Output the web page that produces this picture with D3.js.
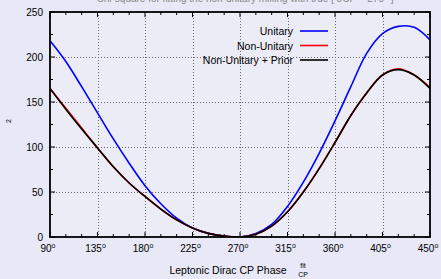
<!DOCTYPE html>
<html>
<head>
<meta charset="utf-8">
<script src="https://cdn.jsdelivr.net/npm/d3@7"></script>
<style>
  html, body { margin: 0; padding: 0; background: #e8e8f6; }
  svg { display: block; }
</style>
</head>
<body>
<div id="chart"></div>
<script>
// data
const phases = [90, 105, 120, 135, 150, 165, 180, 195, 210, 225, 240, 255, 270,
                285, 300, 315, 330, 345, 360, 375, 390, 405, 420, 435, 450]
const unitary = [218, 195, 167, 138, 109, 82, 57, 37, 21, 10, 4, 1, 0,
                 4, 14, 34, 61, 93, 129, 167, 204, 226, 234, 233, 219]
const nonUnitary = [165, 143, 121, 99, 78, 60, 45, 31, 19, 10, 4, 1, 0,
                    3, 12, 28, 50, 76, 105, 135, 160, 180, 187, 180, 166]
const nonUnitaryPrior = [165, 142, 120, 99, 78, 60, 45, 31, 19, 10, 4, 1, 0,
                         3, 12, 28, 50, 76, 105, 135, 160, 180, 186, 180, 165]
const xTicks = [90, 135, 180, 225, 270, 315, 360, 405, 450]
const yTicks = [0, 50, 100, 150, 200, 250]
const seriesNames = ["Unitary", "Non-Unitary", "Non-Unitary + Prior"]
const seriesColors = ["#0000ff", "#ff0000", "#000000"]

const W = 441, H = 279
const margin = {left: 50, right: 11, top: 12, bottom: 42}
const font = "Liberation Sans, Arial, Helvetica, sans-serif"

const svg = d3.select("#chart").append("svg")
    .attr("width", W)
    .attr("height", H)

svg.append("rect").attr("width", W).attr("height", H).attr("fill", "#e8e8f6")

const x = d3.scaleLinear().domain([90, 450]).range([margin.left, W - margin.right])
const y = d3.scaleLinear().domain([0, 250]).range([H - margin.bottom, margin.top])

// title, cut off at the top edge as in the original
svg.append("text")
    .attr("x", 245).attr("y", 2)
    .attr("text-anchor", "middle")
    .attr("font-family", font).attr("font-size", 10)
    .attr("fill", "#888")
    .text("Chi-square for fitting the non-unitary mixing with true [ δCP = 270° ]")

svg.append("rect")
    .attr("x", x(90)).attr("y", y(250))
    .attr("width", x(450) - x(90)).attr("height", y(0) - y(250))
    .attr("fill", "#ececf7")

// grid
const grid = svg.append("g")
    .attr("stroke", "#666").attr("stroke-width", 1).attr("stroke-dasharray", "1,2")
grid.selectAll(".vg").data(xTicks.slice(1, -1)).join("line")
    .attr("x1", d => Math.round(x(d)) + 0.5).attr("x2", d => Math.round(x(d)) + 0.5)
    .attr("y1", y(250)).attr("y2", y(0))
grid.selectAll(".hg").data(yTicks.slice(1, -1)).join("line")
    .attr("y1", d => Math.round(y(d)) + 0.5).attr("y2", d => Math.round(y(d)) + 0.5)
    .attr("x1", x(90)).attr("x2", x(450))

// ticks (inward, all four sides)
const ticks = svg.append("g").attr("stroke", "#000").attr("stroke-width", 1)
const xMinor = d3.range(90, 451, 15)
const yMinor = d3.range(0, 251, 25)
xMinor.forEach(d => {
    const len = d % 45 === 0 ? 5 : 3
    ticks.append("line").attr("x1", x(d)).attr("x2", x(d)).attr("y1", y(0)).attr("y2", y(0) - len)
    ticks.append("line").attr("x1", x(d)).attr("x2", x(d)).attr("y1", y(250)).attr("y2", y(250) + len)
})
yMinor.forEach(d => {
    const len = d % 50 === 0 ? 5 : 3
    ticks.append("line").attr("y1", y(d)).attr("y2", y(d)).attr("x1", x(90)).attr("x2", x(90) + len)
    ticks.append("line").attr("y1", y(d)).attr("y2", y(d)).attr("x1", x(450)).attr("x2", x(450) - len)
})

// curves
const series = [unitary, nonUnitary, nonUnitaryPrior]
const line = d3.line()
    .x((d, i) => x(phases[i]))
    .y(d => y(d))
    .curve(d3.curveCatmullRom.alpha(0.5))

svg.append("defs").append("clipPath").attr("id", "plotclip")
    .append("rect")
    .attr("x", x(90)).attr("y", y(250))
    .attr("width", x(450) - x(90)).attr("height", y(0) - y(250))

const curves = svg.append("g").attr("clip-path", "url(#plotclip)")
series.forEach((s, k) => {
    curves.append("path")
        .datum(s)
        .attr("d", line)
        .attr("fill", "none")
        .attr("stroke", seriesColors[k])
        .attr("stroke-width", 1.6)
})

// frame
svg.append("rect")
    .attr("x", x(90)).attr("y", y(250))
    .attr("width", x(450) - x(90)).attr("height", y(0) - y(250))
    .attr("fill", "none").attr("stroke", "#000").attr("stroke-width", 1.8)

// tick labels
const xl = svg.append("g").attr("font-family", font).attr("font-size", 10).attr("fill", "#000")
xTicks.forEach(d => {
    const t = xl.append("text").attr("x", x(d) - 2).attr("y", y(0) + 15).attr("text-anchor", "middle")
    t.append("tspan").text(d)
    t.append("tspan").attr("font-size", 7).attr("dy", -4).text("o")
})
svg.append("g").attr("font-family", font).attr("font-size", 10).attr("fill", "#000")
    .selectAll("text").data(yTicks).join("text")
    .attr("x", x(90) - 7).attr("y", d => y(d) + 3.5)
    .attr("text-anchor", "end")
    .text(d => d)

// axis titles
svg.append("text")
    .attr("transform", "translate(11,121) rotate(-90)")
    .attr("text-anchor", "middle")
    .attr("font-family", font).attr("font-size", 7)
    .text("2")

svg.append("text")
    .attr("x", 228).attr("y", 274)
    .attr("text-anchor", "middle")
    .attr("font-family", font).attr("font-size", 10.5)
    .text("Leptonic Dirac CP Phase")
svg.append("text").attr("x", 303).attr("y", 268).attr("text-anchor", "middle")
    .attr("font-family", font).attr("font-size", 7).text("fit")
svg.append("text").attr("x", 303).attr("y", 277).attr("text-anchor", "middle")
    .attr("font-family", font).attr("font-size", 7).text("CP")

// legend
const legend = svg.append("g").attr("font-family", font).attr("font-size", 10.5)
seriesNames.forEach((name, k) => {
    const ly = 31 + k * 14.5
    legend.append("text").attr("x", 293).attr("y", ly + 4).attr("text-anchor", "end").text(name)
    legend.append("line").attr("x1", 300).attr("x2", 328).attr("y1", ly).attr("y2", ly)
        .attr("stroke", seriesColors[k]).attr("stroke-width", 1.6)
})
</script>
</body>
</html>
